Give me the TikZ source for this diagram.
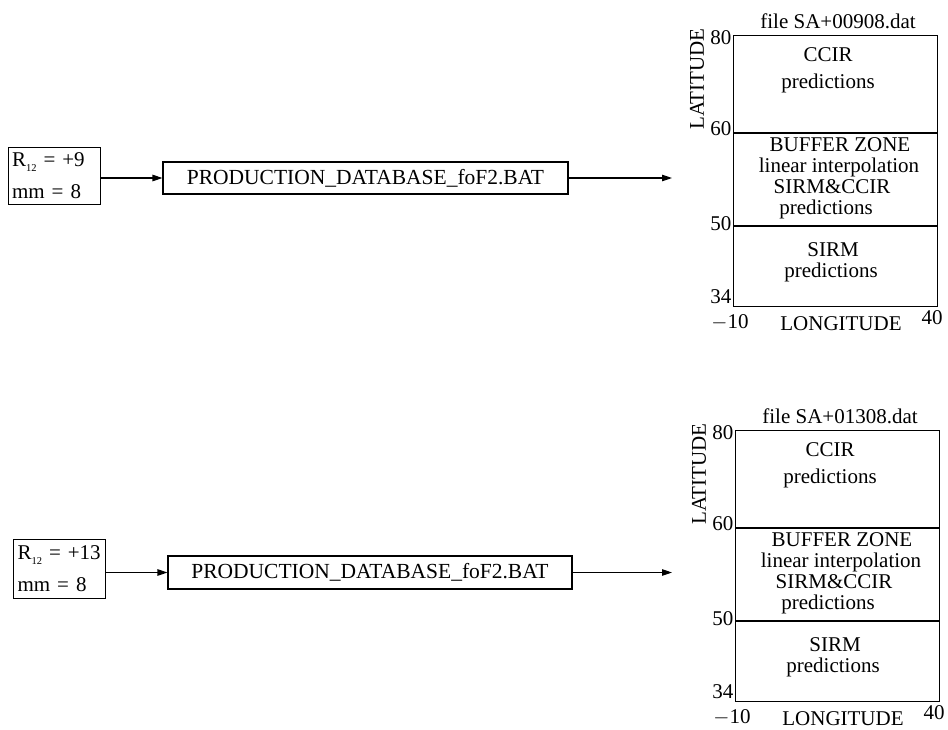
\documentclass[tikz,border=0pt]{standalone}
\usepackage{fontspec}
\setmainfont{Liberation Serif}
\usetikzlibrary{arrows.meta}
\tikzset{
  every picture/.style={line width=1.1pt},
  big/.style={font=\fontsize{21.5}{24}\selectfont},
  lbl/.style={inner sep=0pt, font=\fontsize{21}{23}\selectfont},
  inbox/.style={draw, font=\fontsize{21}{32}\selectfont, align=left, anchor=north west, text width=84pt, inner xsep=4pt, inner ysep=2pt},
  procbox/.style={draw, big, inner sep=0pt},
  conn/.style={-{Triangle[length=10pt,width=6.5pt]}},
  chart/.pic={
    \node[draw, minimum width=204, minimum height=271, anchor=north west, inner sep=0pt] (frame) at (0,0) {};
    \coordinate (l60a) at (0,98); \coordinate (l60b) at (204,98);
    \coordinate (l50a) at (0,191); \coordinate (l50b) at (204,191);
    \draw (l60a) -- (l60b);
    \draw (l50a) -- (l50b);
    \node[lbl] (title) at (105,-14) {#1};
    \node[lbl, anchor=east] (y80) at (-1,3) {80};
    \node[lbl, anchor=east] (y60) at (-1,94) {60};
    \node[lbl, anchor=east] (y50) at (-1,189) {50};
    \node[lbl, anchor=east] (y34) at (-1,262) {34};
    \node[lbl] (xm10) at (-3,287) {$-$10};
    \node[lbl] (x40) at (199,283) {40};
    \node[lbl] (xlab) at (108,289) {LONGITUDE};
    \node[lbl, rotate=90] (ylab) at (-36,44) {LATITUDE};
    \node[lbl] (t1) at (95,20) {CCIR};
    \node[lbl] (t2) at (95,48) {predictions};
    \node[lbl] (t3) at (107,110) {BUFFER ZONE};
    \node[lbl] (t4) at (106,132) {linear interpolation};
    \node[lbl] (t5) at (99,152) {SIRM\&CCIR};
    \node[lbl] (t6) at (93,174) {predictions};
    \node[lbl] (t7) at (100,215) {SIRM};
    \node[lbl] (t8) at (98,237) {predictions};
  }
}
\begin{document}
\begin{tikzpicture}[x=1pt,y=-1pt]
\useasboundingbox (0,0) rectangle (948,729);
% top row
\node[inbox, minimum height=57pt] (in1) at (7.5,147) {\mbox{R\raisebox{-5pt}{\fontsize{10.5}{11}\selectfont 12} = +9}\\mm = 8};
\node[procbox, minimum width=405, minimum height=32] (p1) at (365.5,178) {PRODUCTION\_DATABASE\_foF2.BAT};
\coordinate (e1) at (672,178);
\draw[conn] (in1.east |- p1.west) -- (p1.west);
\draw[conn] (p1.east) -- (e1);
\pic (c1) at (733,35) {chart={file SA+00908.dat}};
% bottom row
\node[inbox, minimum height=59pt] (in2) at (13,539) {\mbox{R\raisebox{-5pt}{\fontsize{10.5}{11}\selectfont 12} = +13}\\mm = 8};
\node[procbox, minimum width=404, minimum height=33] (p2) at (370,572.5) {PRODUCTION\_DATABASE\_foF2.BAT};
\coordinate (e2) at (672,572.5);
\draw[conn] (in2.east |- p2.west) -- (p2.west);
\draw[conn] (p2.east) -- (e2);
\pic (c2) at (735,430) {chart={file SA+01308.dat}};
\end{tikzpicture}
\end{document}
